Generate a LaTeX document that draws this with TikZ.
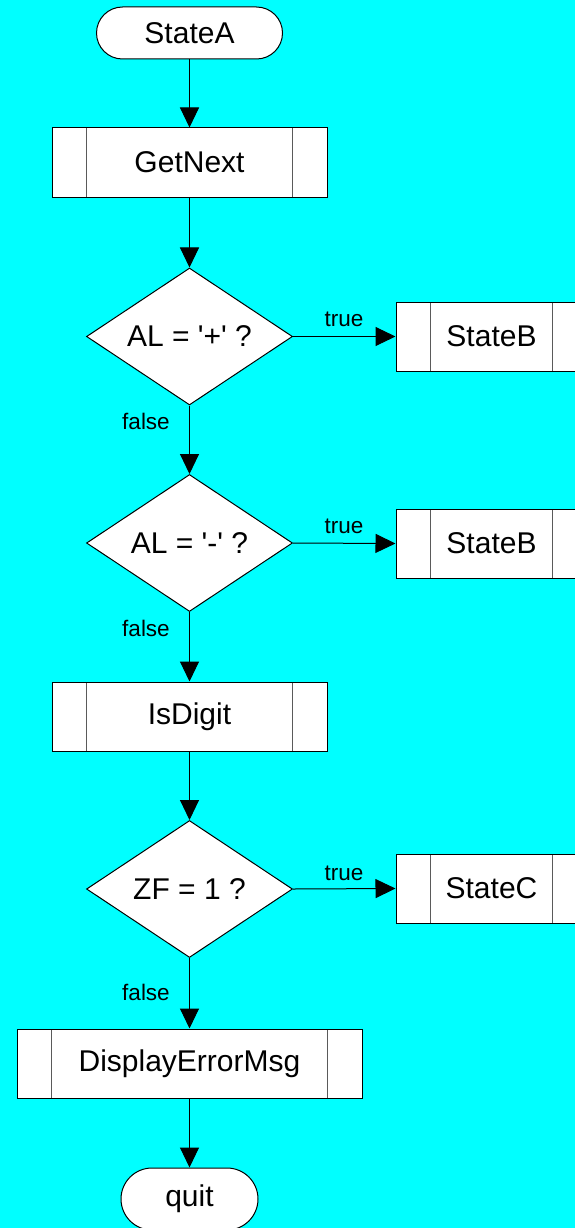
\documentclass[tikz,border=0pt]{standalone}
\usepackage{fontspec}
\setmainfont{Liberation Sans}
\usetikzlibrary{shapes.geometric,arrows.meta}
\definecolor{bgcyan}{HTML}{00FFFF}
\definecolor{divider}{HTML}{5A5A5A}

\begin{document}
\begin{tikzpicture}[x=1pt,y=-1pt,
  base/.style={draw=black, line width=1pt, fill=white, inner sep=0pt,
               font=\fontsize{30}{36}\selectfont},
  terminal/.style={base, rectangle, rounded corners=26pt,
                   minimum width=186pt, minimum height=52pt},
  subroutine/.style={base, rectangle, minimum height=69pt,
    path picture={
      \draw[divider, line width=1pt]
        ([xshift=34.5pt]path picture bounding box.north west) --
        ([xshift=34.5pt]path picture bounding box.south west)
        ([xshift=-34.5pt]path picture bounding box.north east) --
        ([xshift=-34.5pt]path picture bounding box.south east);}},
  decision/.style={base, diamond, aspect=1.5,
                   minimum width=206pt, minimum height=137pt},
  flow/.style={draw=black, line width=1pt, -{Triangle[length=20pt,width=19pt]}},
  lbl/.style={font=\fontsize{22.5}{27}\selectfont, inner sep=0pt, anchor=base}
]
% page and background
\useasboundingbox (0,0) rectangle (575,1228);
\fill[bgcyan] (0,0) rectangle (575,1228);
\clip (0,0) rectangle (575,1228);

% main column
\node[terminal] (start) at (189.5,33) {StateA};
\node[subroutine, minimum width=275pt] (next) at (189.5,162.5) {GetNext};
\node[decision] (plus) at (189.5,336.5) {AL = \textquotesingle+\textquotesingle\ ?};
\node[decision] (minus) at (189.5,543) {AL = \textquotesingle-\textquotesingle\ ?};
\node[subroutine, minimum width=275pt] (digit) at (189.5,716.5) {IsDigit};
\node[decision] (zf) at (189.5,889) {ZF = 1 ?};
\node[subroutine, minimum width=345pt] (err) at (189.5,1063.5) {DisplayErrorMsg};
\node[terminal, minimum width=137pt, minimum height=62pt, rounded corners=31pt]
  (quit) at (189.5,1199) {quit};

% branch targets on the right
\node[subroutine, minimum width=191pt] (stb1) at (491.5,336.5) {StateB};
\node[subroutine, minimum width=191pt] (stb2) at (491.5,543.5) {StateB};
\node[subroutine, minimum width=191pt] (stc) at (491.5,888.5) {StateC};

% connectors
\draw[flow] (start) -- (next);
\draw[flow] (next) -- (plus);
\draw[flow] (plus) -- (minus);
\draw[flow] (minus) -- (digit);
\draw[flow] (digit) -- (zf);
\draw[flow] (zf) -- (err);
\draw[flow] (err) -- (quit);
\draw[flow] (plus.east) -- (stb1.west);
\draw[flow] (minus.east) -- (stb2.west);
\draw[flow] (zf.east) -- (stc.west);

% branch labels
\node[lbl] (t1) at (344,326) {true};
\node[lbl] (t2) at (344,533) {true};
\node[lbl] (t3) at (344,880) {true};
\node[lbl] (f1) at (146,429) {false};
\node[lbl] (f2) at (146,636) {false};
\node[lbl] (f3) at (146,1000) {false};
\end{tikzpicture}
\end{document}
